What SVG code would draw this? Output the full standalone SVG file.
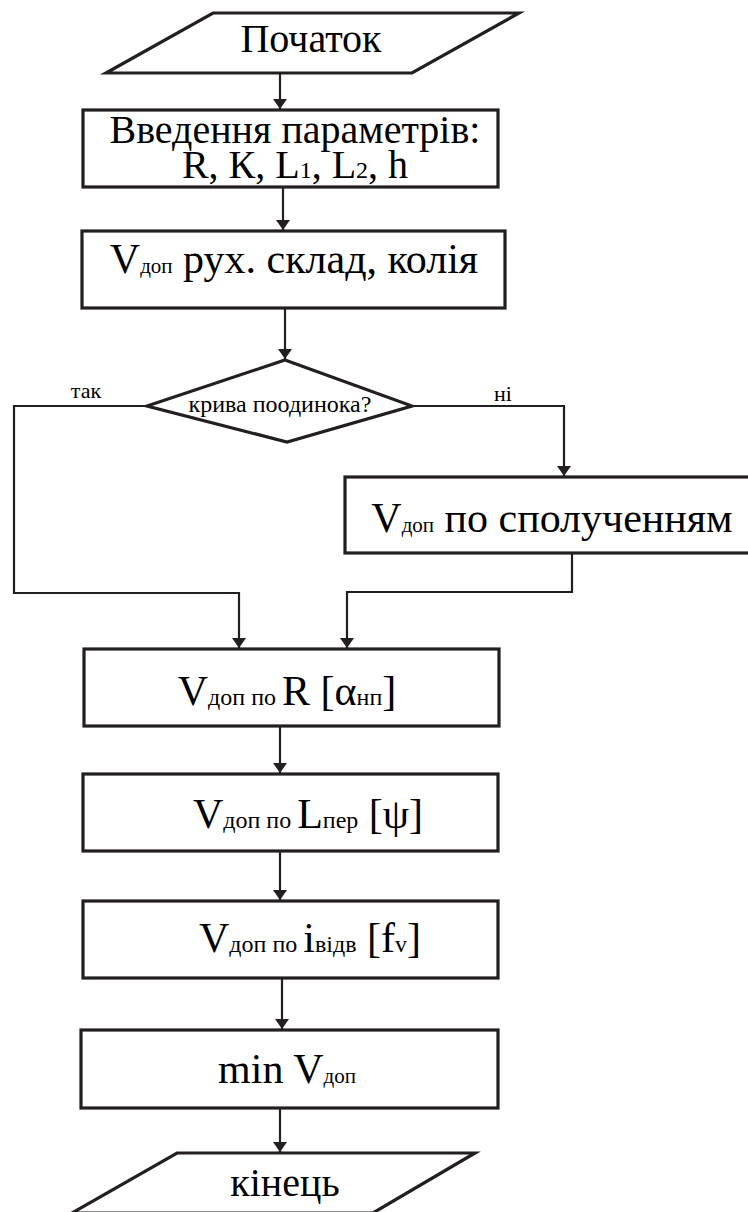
<svg xmlns="http://www.w3.org/2000/svg" width="748" height="1212" viewBox="0 0 748 1212">
<style>
.shape{fill:#fff;stroke:#231f20;stroke-width:3.2;stroke-linejoin:miter}
.conn{fill:none;stroke:#231f20;stroke-width:2.2}
text{fill:#000}
.s{font-size:21px}
.m{font-size:24px}
.lbl{font-size:22px}
</style>
<defs>
<marker id="arr" viewBox="0 0 10 14" refX="10" refY="7" markerWidth="10" markerHeight="14" markerUnits="userSpaceOnUse" orient="auto">
<path d="M0,0 L10,7 L0,14 Z" fill="#231f20"/>
</marker>
</defs>
<rect width="748" height="1212" fill="#fff"/>

<g id="connectors">
<line class="conn" x1="280" y1="73" x2="280" y2="109" marker-end="url(#arr)"/>
<line class="conn" x1="283" y1="187" x2="283" y2="230" marker-end="url(#arr)"/>
<line class="conn" x1="285" y1="308" x2="285" y2="359" marker-end="url(#arr)"/>
<polyline class="conn" points="147,406 14,406 14,593 239,593 239,648" marker-end="url(#arr)"/>
<polyline class="conn" points="412,406 564,406 564,476" marker-end="url(#arr)"/>
<polyline class="conn" points="572,553 572,592 347,592 347,648" marker-end="url(#arr)"/>
<line class="conn" x1="280" y1="726" x2="280" y2="773" marker-end="url(#arr)"/>
<line class="conn" x1="280" y1="851" x2="280" y2="900" marker-end="url(#arr)"/>
<line class="conn" x1="282" y1="978" x2="282" y2="1029" marker-end="url(#arr)"/>
<line class="conn" x1="280" y1="1108" x2="280" y2="1152" marker-end="url(#arr)"/>
<text class="lbl" x="86" y="398" text-anchor="middle" style="font-family:'Liberation Serif'">так</text>
<text class="lbl" x="503" y="401" text-anchor="middle" style="font-family:'Liberation Serif'">ні</text>
</g>

<g id="start">
<polygon class="shape" points="213,13 519,13 412,73 106,73"/>
<text x="311" y="52" font-size="40" text-anchor="middle" style="font-family:'Liberation Serif'">Початок</text>
</g>

<g id="input">
<rect class="shape" x="83" y="110" width="415" height="77"/>
<text x="295" y="143" font-size="40" text-anchor="middle" style="font-family:'Liberation Serif'">Введення параметрів:</text>
<text x="295" y="178" font-size="40" text-anchor="middle" style="font-family:'Liberation Serif'">R, К, L<tspan class="m">1</tspan>, L<tspan class="m">2</tspan>, h</text>
</g>

<g id="v-rolling">
<rect class="shape" x="82" y="231" width="423" height="77"/>
<text x="294" y="273" font-size="42" text-anchor="middle" style="font-family:'Liberation Serif'">V<tspan class="s">доп</tspan> рух. склад, колія</text>
</g>

<g id="decision">
<polygon class="shape" points="285,360 412,406 287,442 147,406"/>
<text x="280" y="412" font-size="24" text-anchor="middle" style="font-family:'Liberation Serif'">крива поодинока?</text>
</g>

<g id="v-combinations">
<rect class="shape" x="345" y="477" width="410" height="76"/>
<text x="552" y="532" font-size="42" text-anchor="middle" style="font-family:'Liberation Serif'">V<tspan class="s">доп</tspan> по сполученням</text>
</g>

<g id="v-radius">
<rect class="shape" x="84" y="649" width="415" height="77"/>
<text x="287" y="705" font-size="42" text-anchor="middle" style="font-family:'Liberation Serif'">V<tspan class="m">доп  по </tspan>R [α<tspan class="m">нп</tspan>]</text>
</g>

<g id="v-transition">
<rect class="shape" x="83" y="774" width="415" height="77"/>
<text x="308" y="828" font-size="42" text-anchor="middle" style="font-family:'Liberation Serif'">V<tspan class="m">доп  по </tspan>L<tspan class="m">пер</tspan> [ψ]</text>
</g>

<g id="v-slope">
<rect class="shape" x="83" y="901" width="415" height="77"/>
<text x="310" y="952" font-size="42" text-anchor="middle" style="font-family:'Liberation Serif'">V<tspan class="m">доп  по </tspan>i<tspan class="m">відв</tspan> [f<tspan class="m">v</tspan>]</text>
</g>

<g id="min">
<rect class="shape" x="81" y="1030" width="417" height="78"/>
<text x="287" y="1083" font-size="42" text-anchor="middle" style="font-family:'Liberation Serif'">min V<tspan class="s">доп</tspan></text>
</g>

<g id="end">
<polygon class="shape" points="177,1153 475,1153 373,1213 72,1213"/>
<text x="285" y="1196" font-size="40" text-anchor="middle" style="font-family:'Liberation Serif'">кінець</text>
</g>
</svg>
